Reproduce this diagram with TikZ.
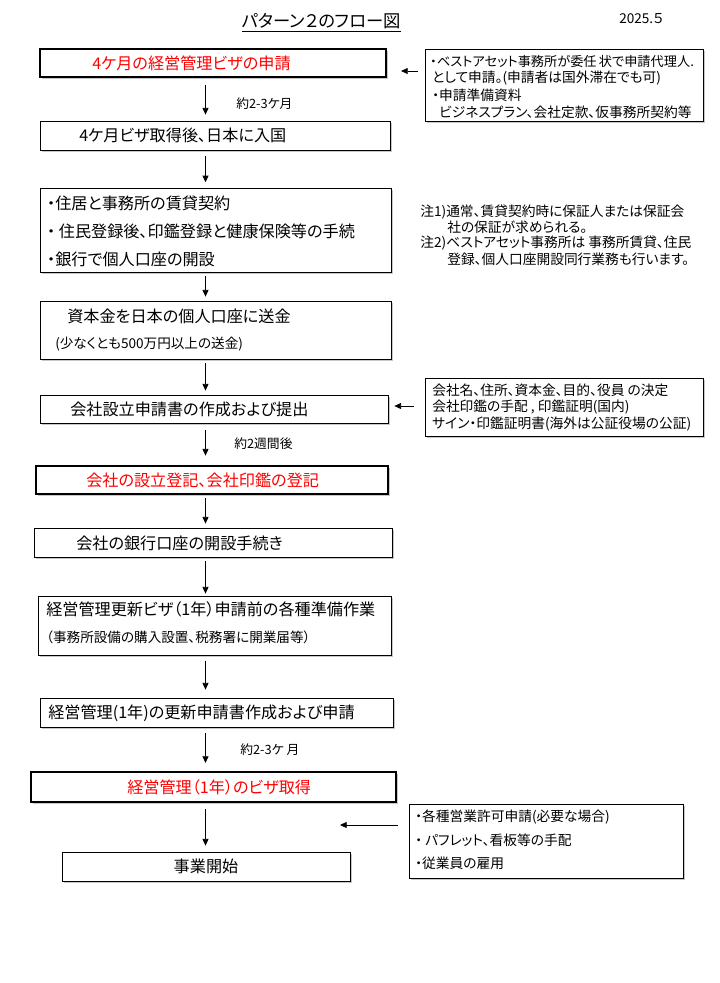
\documentclass[tikz,border=0pt]{standalone}
\usepackage{fontspec}
\setmainfont{Noto Sans CJK JP}[RawFeature={+palt}]
\usetikzlibrary{arrows.meta,fit,shadows}
\newcommand\fmain{\fontsize{12.1pt}{14pt}\selectfont}
\newcommand\fsub{\fontsize{10.2pt}{12pt}\selectfont}
\newcommand\fside{\fontsize{10.3pt}{12pt}\selectfont}
\newcommand\flab{\fontsize{9.6pt}{11pt}\selectfont}
\newcommand\ftitle{\fontsize{13pt}{15pt}\selectfont}
\begin{document}
\begin{tikzpicture}[x=0.75pt,y=-0.75pt,
  box/.style={draw, line width=0.6pt, inner sep=0pt, fill=white,
    drop shadow={shadow xshift=1.2pt, shadow yshift=-1.2pt, fill=black!22, opacity=1}},
  tbox/.style={box, line width=1.6pt},
  txt/.style={anchor=west, inner sep=0pt, font=\fmain},
  sub/.style={anchor=west, inner sep=0pt, font=\fsub},
  side/.style={anchor=west, inner sep=0pt, font=\fside},
  lab/.style={anchor=west, inner sep=0pt, font=\flab},
  arr/.style={-{Triangle[length=5pt,width=4.5pt]}, line width=0.6pt}]
\fill[white] (0,0) rectangle (720,983);
\useasboundingbox (0,0) rectangle (720,983);

% title
\node[font=\ftitle, inner sep=0pt, anchor=west] (title) at (242,21) {パターン２のフロー図};
\draw[line width=0.6pt] ([yshift=-3pt]title.base west) -- ([yshift=-3pt]title.base east);
\node[lab, font=\fsub] (date) at (619,19) {2025.５};

% boxes
\node[tbox, fit={(40,49)(386,77)}] (A) {};
\node[box, fit={(40,121)(390,150)}] (B) {};
\node[box, fit={(40,188)(391,272)}] (C) {};
\node[box, fit={(40,301)(391,359)}] (D) {};
\node[box, fit={(40,395)(388,423)}] (E) {};
\node[tbox, fit={(36,466)(388,494)}] (F) {};
\node[box, fit={(34,528)(392,557)}] (G) {};
\node[box, fit={(38,596)(391,655)}] (H) {};
\node[box, fit={(40,698)(393,727)}] (I) {};
\node[tbox, fit={(31,772)(396,802)}] (J) {};
\node[box, fit={(62,852)(350,881)}] (K) {};
\node[box, fit={(425,49)(703,121)}] (R1) {};
\node[box, fit={(425,378)(703,436)}] (R2) {};
\node[box, fit={(409,804)(683,878)}] (R3) {};

% box texts
\node[txt, text=red] (At) at (92,63) {4ケ月の経営管理ビザの申請};
\node[txt] (Bt) at (79,135) {4ケ月ビザ取得後、日本に入国};
\node[txt] (Ct1) at (47,203) {・住居と事務所の賃貸契約};
\node[txt] (Ct2) at (47,231) {・ 住民登録後、印鑑登録と健康保険等の手続};
\node[txt] (Ct3) at (47,259) {・銀行で個人口座の開設};
\node[txt] (Dt1) at (67,316) {資本金を日本の個人口座に送金};
\node[sub] (Dt2) at (55,344) {(少なくとも500万円以上の送金)};
\node[txt] (Et) at (70,409) {会社設立申請書の作成および提出};
\node[txt, text=red] (Ft) at (86,480) {会社の設立登記、会社印鑑の登記};
\node[txt] (Gt) at (76,543) {会社の銀行口座の開設手続き};
\node[txt] (Ht1) at (46,609) {経営管理更新ビザ（1年）申請前の各種準備作業};
\node[sub] (Ht2) at (46,637) {（事務所設備の購入設置、税務署に開業届等）};
\node[txt] (It) at (48,713) {経営管理(1年)の更新申請書作成および申請};
\node[txt, text=red] (Jt) at (127,787) {経営管理（1年）のビザ取得};
\node[txt, anchor=center] (Kt) at (206,866) {事業開始};

% side texts
\node[side, font=\fontsize{9.9pt}{12pt}\selectfont] (R1a) at (430,61) {・ベストアセット事務所が委任\,状で申請代理人.};
\node[side] (R1b) at (432,78) {として申請。(申請者は国外滞在でも可)};
\node[side] (R1c) at (432,95) {・申請準備資料};
\node[side] (R1d) at (439,112) {ビジネスプラン、会社定款、仮事務所契約等};
\node[side] (R2a) at (432,390) {会社名、住所、資本金、目的、役員 の決定};
\node[side] (R2b) at (432,407) {会社印鑑の手配 , 印鑑証明(国内)};
\node[side] (R2c) at (432,424) {サイン・印鑑証明書(海外は公証役場の公証)};
\node[side] (R3a) at (415,817) {・各種営業許可申請(必要な場合)};
\node[side] (R3b) at (415,840) {・ パフレット、看板等の手配};
\node[side] (R3c) at (415,863) {・従業員の雇用};

% notes
\node[side] (N1) at (420,212) {注1)通常、賃貸契約時に保証人または保証会};
\node[side] (N2) at (447,227) {社の保証が求められる。};
\node[side] (N3) at (420,243) {注2)ベストアセット事務所は 事務所賃貸、住民};
\node[side] (N4) at (447,259) {登録、個人口座開設同行業務も行います。};

% duration labels
\node[lab] (L1) at (236,104) {約2-3ケ月};
\node[lab] (L2) at (234,444) {約2週間後};
\node[lab] (L3) at (240,750) {約2-3ケ 月};

% vertical arrows
\coordinate (ax) at (205.5,0);
\draw[arr, shorten <=5pt, shorten >=4.5pt] (A.south -| ax) -- (B.north -| ax);
\draw[arr, shorten <=4pt, shorten >=4pt] (B.south -| ax) -- (C.north -| ax);
\draw[arr, shorten <=3pt, shorten >=3pt] (C.south -| ax) -- (D.north -| ax);
\draw[arr, shorten <=3pt, shorten >=3pt] (D.south -| ax) -- (E.north -| ax);
\draw[arr, shorten <=5pt, shorten >=7pt] (E.south -| ax) -- (F.north -| ax);
\draw[arr, shorten <=2.5pt, shorten >=3pt] (F.south -| ax) -- (G.north -| ax);
\draw[arr, shorten <=3pt, shorten >=1.5pt] (G.south -| ax) -- (H.north -| ax);
\draw[arr, shorten <=4pt, shorten >=6pt] (H.south -| ax) -- (I.north -| ax);
\draw[arr, shorten <=4.5pt, shorten >=6pt] (I.south -| ax) -- (J.north -| ax);
\draw[arr, shorten <=4.5pt, shorten >=4.5pt] (J.south -| ax) -- (K.north -| ax);

% side arrows
\coordinate (y1) at (0,71);
\coordinate (y2) at (0,406);
\coordinate (e3) at (340,825);
\draw[arr, shorten <=5pt, shorten >=10.5pt] (R1.west |- y1) -- (A.east |- y1);
\draw[arr, shorten <=8pt, shorten >=4.5pt] (R2.west |- y2) -- (E.east |- y2);
\draw[arr, shorten <=8pt] (R3.west |- e3) -- (e3);
\end{tikzpicture}
\end{document}
